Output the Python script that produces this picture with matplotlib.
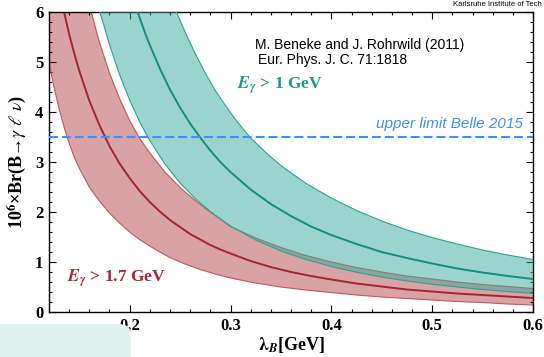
import matplotlib
matplotlib.use('Agg')
import matplotlib.pyplot as plt
from matplotlib.patches import FancyBboxPatch
from matplotlib.ticker import MultipleLocator

plt.rcParams['mathtext.fontset'] = 'stix'

# E_gamma > 1.7 GeV (red band): lower edge, central value, upper edge
red_lo_x = [0.12, 0.125, 0.13, 0.135, 0.14, 0.145, 0.15, 0.16, 0.17, 0.18, 0.19, 0.20, 0.21, 0.22, 0.23, 0.24,
            0.255, 0.27, 0.285, 0.30, 0.325, 0.35, 0.375, 0.40, 0.425, 0.45, 0.475, 0.50, 0.525, 0.55, 0.575, 0.60]
red_lo_y = [5.0, 4.5, 4.07, 3.7, 3.38, 3.1, 2.88, 2.5, 2.22, 1.98, 1.78, 1.6, 1.45, 1.32, 1.2, 1.09,
            0.96, 0.85, 0.76, 0.68, 0.58, 0.5, 0.44, 0.39, 0.34, 0.3, 0.27, 0.24, 0.21, 0.19, 0.16, 0.14]
red_mid_x = [0.135, 0.14, 0.145, 0.15, 0.16, 0.17, 0.18, 0.19, 0.20, 0.21, 0.22, 0.23, 0.24, 0.25, 0.26, 0.27,
             0.28, 0.29, 0.30, 0.32, 0.34, 0.36, 0.38, 0.40, 0.425, 0.45, 0.475, 0.50, 0.525, 0.55, 0.575, 0.60]
red_mid_y = [6.0, 5.56, 5.18, 4.83, 4.23, 3.74, 3.32, 2.97, 2.68, 2.42, 2.2, 2.01, 1.84, 1.7, 1.56, 1.45,
             1.34, 1.25, 1.17, 1.02, 0.9, 0.8, 0.72, 0.65, 0.57, 0.51, 0.45, 0.41, 0.37, 0.34, 0.31, 0.28]
red_hi_x = [0.162, 0.17, 0.18, 0.19, 0.20, 0.21, 0.22, 0.235, 0.25, 0.265, 0.28, 0.30, 0.325, 0.35, 0.375,
            0.40, 0.425, 0.45, 0.475, 0.50, 0.525, 0.55, 0.575, 0.60]
red_hi_y = [6.0, 5.4, 4.78, 4.27, 3.83, 3.47, 3.18, 2.8, 2.49, 2.23, 2.0, 1.71, 1.48, 1.29, 1.13,
            1.0, 0.89, 0.8, 0.72, 0.66, 0.6, 0.55, 0.51, 0.47]

# E_gamma > 1 GeV (teal band)
teal_lo_x = [0.1705, 0.175, 0.18, 0.19, 0.20, 0.21, 0.22, 0.235, 0.25, 0.265, 0.28, 0.30, 0.325, 0.35, 0.375,
             0.40, 0.425, 0.45, 0.475, 0.50, 0.525, 0.55, 0.575, 0.60]
teal_lo_y = [6.0, 5.7, 5.35, 4.75, 4.24, 3.8, 3.43, 2.96, 2.58, 2.27, 2.01, 1.72, 1.44, 1.22, 1.05,
             0.91, 0.795, 0.7, 0.62, 0.555, 0.5, 0.45, 0.41, 0.37]
teal_mid_x = [0.208, 0.215, 0.22, 0.23, 0.24, 0.25, 0.26, 0.27, 0.28, 0.29, 0.30, 0.32, 0.34, 0.36, 0.38,
              0.40, 0.425, 0.45, 0.475, 0.50, 0.525, 0.55, 0.575, 0.60]
teal_mid_y = [6.0, 5.6, 5.34, 4.87, 4.45, 4.09, 3.77, 3.49, 3.23, 3.0, 2.8, 2.45, 2.16, 1.92, 1.71,
              1.54, 1.36, 1.2, 1.08, 0.97, 0.87, 0.79, 0.72, 0.66]
teal_hi_x = [0.2464, 0.255, 0.265, 0.275, 0.285, 0.295, 0.305, 0.319, 0.335, 0.35, 0.375, 0.40, 0.425, 0.45,
             0.475, 0.50, 0.525, 0.55, 0.575, 0.60]
teal_hi_y = [6.0, 5.6, 5.17, 4.78, 4.43, 4.13, 3.85, 3.5, 3.19, 2.93, 2.57, 2.28, 2.03, 1.82,
             1.64, 1.49, 1.36, 1.24, 1.14, 1.05]

belle_limit = 3.5

red_fill = '#d9a2a5'
red_edge = '#c0565b'
red_line = '#a3262c'
teal_fill = '#38ab9a'
teal_edge = '#2ba393'
teal_line = '#0f8f7f'
blue = '#3f8ff5'

fig = plt.figure(figsize=(5.44, 3.57), dpi=100)
fig.patches.append(FancyBboxPatch((-0.05, -0.05), 0.29, 0.143, boxstyle='round,pad=0,rounding_size=0.025',
                                  transform=fig.transFigure, facecolor='#e0f0ee', edgecolor='none',
                                  zorder=0))
ax = fig.add_axes([0.090, 0.126, 0.890, 0.840])


def band(ax, lo_x, lo_y, hi_x, hi_y, **kw):
    # lower edge left->right, upper edge back, closed along the top of the frame
    xs = list(lo_x) + list(hi_x[::-1]) + [lo_x[0]]
    ys = list(lo_y) + list(hi_y[::-1]) + [6.0]
    ax.fill(xs, ys, **kw)


band(ax, red_lo_x, red_lo_y, red_hi_x, red_hi_y, color=red_fill, lw=0, zorder=1)
ax.plot(red_lo_x, red_lo_y, color=red_edge, lw=0.8, zorder=2)
ax.plot(red_hi_x, red_hi_y, color=red_edge, lw=0.8, zorder=2)
ax.plot(red_mid_x, red_mid_y, color=red_line, lw=1.4, zorder=2)

band(ax, teal_lo_x, teal_lo_y, teal_hi_x, teal_hi_y, color=teal_fill, alpha=0.5, lw=0, zorder=3)
ax.plot(teal_lo_x, teal_lo_y, color=teal_edge, lw=0.8, zorder=4)
ax.plot(teal_hi_x, teal_hi_y, color=teal_edge, lw=0.8, zorder=4)
ax.plot(teal_mid_x, teal_mid_y, color=teal_line, lw=1.4, zorder=4)

ax.axhline(belle_limit, color=blue, lw=1.5, ls=(0, (4.3, 1.9)), zorder=5)

ax.set_xlim(0.12, 0.6)
ax.set_ylim(0, 6)
ax.set_xticks([0.2, 0.3, 0.4, 0.5, 0.6])
ax.set_xticklabels(['0.2', '0.3', '0.4', '0.5', '0.6'])
ax.xaxis.set_minor_locator(MultipleLocator(0.02))
ax.yaxis.set_major_locator(MultipleLocator(1))
ax.yaxis.set_minor_locator(MultipleLocator(0.2))
ax.tick_params(which='both', direction='in', top=True, right=True, width=0.8)
ax.tick_params(which='major', length=5, labelsize=12, pad=4)
ax.tick_params(which='minor', length=2.5)
for lab in ax.get_xticklabels() + ax.get_yticklabels():
    lab.set_fontfamily('Liberation Serif')
    lab.set_fontweight('bold')
for s in ax.spines.values():
    s.set_linewidth(1.0)

ax.set_xlabel(r'$\mathbf{\lambda}_{\mathbfit{B}}$[GeV]', fontsize=13, fontweight='bold',
              family='Liberation Serif', labelpad=1)
ax.set_ylabel(r'10$^{\mathbf{6}}$×Br(B→$\gamma$ $\ell$ $\nu$)', fontsize=13, fontweight='bold',
              family='Liberation Serif', labelpad=5)

ax.text(0.324, 5.34, 'M. Beneke and J. Rohrwild (2011)', fontsize=10, family='Liberation Sans',
        va='center', ha='left', zorder=6)
ax.text(0.327, 5.04, 'Eur. Phys. J. C. 71:1818', fontsize=10, family='Liberation Sans',
        va='center', ha='left', zorder=6)
ax.text(0.306, 4.54, r'$\mathbfit{E}_{\mathbfit{\gamma}}$ > 1 GeV', fontsize=12.5, fontweight='bold',
        family='Liberation Serif', color='#1a9a86', va='center', ha='left', zorder=6)
ax.text(0.138, 0.68, r'$\mathbfit{E}_{\mathbfit{\gamma}}$ > 1.7 GeV', fontsize=12.5, fontweight='bold',
        family='Liberation Serif', color='#a8262d', va='center', ha='left', zorder=6)
ax.text(0.590, 3.76, 'upper limit Belle 2015', fontsize=11, style='italic', family='Liberation Sans',
        color=blue, va='center', ha='right', zorder=6)

# slide header, cut at the right edge in the original
fig.text(542 / 544, 1 - 0.5 / 357, 'Karlsruhe Institute of Tech', fontsize=5.5,
         family='Liberation Sans', va='top', ha='right')

fig.savefig('out.png', dpi=100)
